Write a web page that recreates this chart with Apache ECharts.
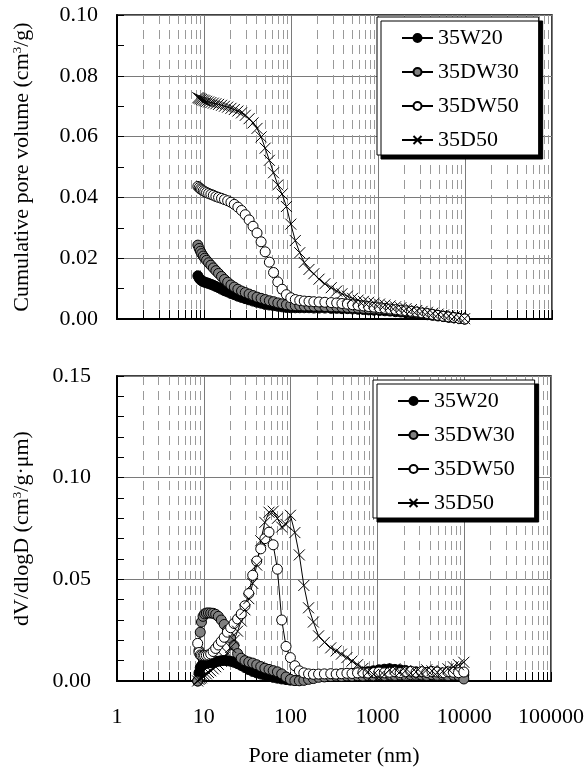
<!DOCTYPE html>
<html>
<head>
<meta charset="utf-8">
<script src="https://cdn.jsdelivr.net/npm/echarts@6/dist/echarts.min.js"></script>
<style>
html,body{margin:0;padding:0;background:#fff;}
#chart{width:587px;height:769px;}
</style>
</head>
<body>
<div id="chart"></div>
<script>
// ---------------- data ----------------
const seriesNames = ['35W20', '35DW30', '35DW50', '35D50'];
const poreDiameter = [
  8.5, 8.8, 9.1, 9.4, 9.8, 10.2, 10.7, 11.3,
  12.0, 12.8, 13.7, 14.7, 15.9, 17.2, 18.7, 20.4,
  22.3, 24.5, 27.0, 29.8, 33.0, 36.6, 40.7, 45.3,
  50.5, 56.4, 63.0, 70.5, 79.0, 88.6, 99.5, 112,
  126, 142, 161, 183, 210, 245, 290, 335,
  385, 445, 510, 590, 680, 780, 900, 1040,
  1200, 1380, 1590, 1830, 2100, 2420, 2790, 3210,
  3700, 4250, 4900, 5650, 6500, 7500, 8600, 9900];

const cumW20 = [
  0.0142, 0.0134, 0.0129, 0.0126, 0.0123, 0.0121, 0.0119, 0.0117,
  0.0114, 0.0111, 0.0107, 0.0103, 0.0098, 0.0093, 0.0089, 0.0084,
  0.0080, 0.0075, 0.0071, 0.0067, 0.0063, 0.0059, 0.0055, 0.0052,
  0.0048, 0.0046, 0.0044, 0.0042, 0.0040, 0.0038, 0.0037, 0.0037,
  0.0037, 0.0037, 0.0037, 0.0036, 0.0036, 0.0036, 0.0035, 0.0035,
  0.0034, 0.0034, 0.0033, 0.0032, 0.0031, 0.0030, 0.0029, 0.0028,
  0.0027, 0.0026, 0.0024, 0.0023, 0.0021, 0.0019, 0.0018, 0.0016,
  0.0014, 0.0012, 0.0010, 0.0008, 0.0006, 0.0004, 0.0002, 0.0000];
const cumDW30 = [
  0.0243, 0.0232, 0.0223, 0.0215, 0.0207, 0.0200, 0.0193, 0.0185,
  0.0177, 0.0168, 0.0159, 0.0150, 0.0140, 0.0130, 0.0121, 0.0112,
  0.0105, 0.0098, 0.0092, 0.0087, 0.0082, 0.0077, 0.0072, 0.0068,
  0.0064, 0.0060, 0.0057, 0.0053, 0.0050, 0.0047, 0.0045, 0.0044,
  0.0044, 0.0043, 0.0043, 0.0042, 0.0042, 0.0041, 0.0040, 0.0040,
  0.0039, 0.0038, 0.0037, 0.0036, 0.0035, 0.0034, 0.0033, 0.0032,
  0.0031, 0.0029, 0.0028, 0.0026, 0.0024, 0.0022, 0.0020, 0.0018,
  0.0016, 0.0014, 0.0011, 0.0009, 0.0006, 0.0004, 0.0002, 0.0000];
const cumDW50 = [
  0.0436, 0.0432, 0.0428, 0.0425, 0.0422, 0.0419, 0.0416, 0.0413,
  0.0410, 0.0407, 0.0403, 0.0400, 0.0397, 0.0393, 0.0389, 0.0384,
  0.0377, 0.0368, 0.0357, 0.0343, 0.0326, 0.0305, 0.0283, 0.0254,
  0.0221, 0.0187, 0.0153, 0.0122, 0.0098, 0.0080, 0.0070, 0.0064,
  0.0061, 0.0059, 0.0058, 0.0057, 0.0056, 0.0055, 0.0054, 0.0053,
  0.0051, 0.0049, 0.0047, 0.0045, 0.0043, 0.0041, 0.0039, 0.0037,
  0.0035, 0.0033, 0.0031, 0.0029, 0.0027, 0.0025, 0.0023, 0.0020,
  0.0018, 0.0015, 0.0012, 0.0009, 0.0007, 0.0005, 0.0002, 0.0000];
const cumD50 = [
  0.0728, 0.0726, 0.0724, 0.0722, 0.0720, 0.0718, 0.0716, 0.0714,
  0.0712, 0.0710, 0.0708, 0.0706, 0.0703, 0.0700, 0.0697, 0.0693,
  0.0689, 0.0684, 0.0678, 0.0670, 0.0659, 0.0645, 0.0627, 0.0599,
  0.0562, 0.0522, 0.0481, 0.0441, 0.0411, 0.0370, 0.0312, 0.0258,
  0.0218, 0.0186, 0.0163, 0.0149, 0.0131, 0.0116, 0.0103, 0.0092,
  0.0083, 0.0075, 0.0068, 0.0062, 0.0058, 0.0055, 0.0052, 0.0049,
  0.0046, 0.0043, 0.0040, 0.0037, 0.0034, 0.0031, 0.0028, 0.0025,
  0.0022, 0.0019, 0.0016, 0.0013, 0.0010, 0.0007, 0.0004, 0.0001];

const difW20 = [
  0.0000, 0.0040, 0.0065, 0.0075, 0.0080, 0.0084, 0.0087, 0.0089,
  0.0090, 0.0092, 0.0094, 0.0097, 0.0100, 0.0101, 0.0100, 0.0097,
  0.0092, 0.0085, 0.0076, 0.0066, 0.0056, 0.0047, 0.0040, 0.0034,
  0.0028, 0.0022, 0.0018, 0.0014, 0.0010, 0.0007, 0.0004, 0.0003,
  0.0005, 0.0009, 0.0014, 0.0019, 0.0023, 0.0027, 0.0030, 0.0032,
  0.0035, 0.0034, 0.0037, 0.0040, 0.0043, 0.0046, 0.0050, 0.0055,
  0.0058, 0.0060, 0.0057, 0.0055, 0.0052, 0.0048, 0.0045, 0.0042,
  0.0040, 0.0038, 0.0036, 0.0035, 0.0034, 0.0033, 0.0033, 0.0030];
const difDW30 = [
  0.0000, 0.0150, 0.0240, 0.0290, 0.0318, 0.0330, 0.0334, 0.0335,
  0.0334, 0.0333, 0.0328, 0.0318, 0.0300, 0.0278, 0.0250, 0.0210,
  0.0175, 0.0135, 0.0112, 0.0100, 0.0093, 0.0088, 0.0080, 0.0071,
  0.0063, 0.0057, 0.0051, 0.0045, 0.0035, 0.0020, 0.0008, 0.0002,
  0.0001, 0.0003, 0.0008, 0.0012, 0.0018, 0.0020, 0.0022, 0.0024,
  0.0022, 0.0025, 0.0023, 0.0026, 0.0024, 0.0027, 0.0025, 0.0028,
  0.0026, 0.0029, 0.0027, 0.0030, 0.0028, 0.0031, 0.0029, 0.0030,
  0.0027, 0.0031, 0.0028, 0.0030, 0.0026, 0.0029, 0.0027, 0.0010];
const difDW50 = [
  0.0185, 0.0140, 0.0128, 0.0125, 0.0124, 0.0125, 0.0126, 0.0128,
  0.0133, 0.0145, 0.0160, 0.0177, 0.0195, 0.0215, 0.0240, 0.0262,
  0.0283, 0.0305, 0.0330, 0.0370, 0.0430, 0.0520, 0.0590, 0.0650,
  0.0700, 0.0732, 0.0670, 0.0550, 0.0300, 0.0170, 0.0115, 0.0075,
  0.0050, 0.0040, 0.0035, 0.0033, 0.0034, 0.0035, 0.0036, 0.0034,
  0.0036, 0.0038, 0.0037, 0.0040, 0.0042, 0.0039, 0.0041, 0.0044,
  0.0040, 0.0043, 0.0046, 0.0041, 0.0045, 0.0048, 0.0043, 0.0046,
  0.0042, 0.0047, 0.0044, 0.0040, 0.0045, 0.0043, 0.0041, 0.0044];
const difD50 = [
  0.0000, 0.0008, 0.0012, 0.0016, 0.0022, 0.0028, 0.0035, 0.0042,
  0.0050, 0.0060, 0.0070, 0.0082, 0.0097, 0.0115, 0.0138, 0.0165,
  0.0200, 0.0245, 0.0295, 0.0350, 0.0405, 0.0480, 0.0570, 0.0690,
  0.0780, 0.0830, 0.0835, 0.0800, 0.0757, 0.0770, 0.0815, 0.0730,
  0.0620, 0.0470, 0.0360, 0.0290, 0.0222, 0.0190, 0.0163, 0.0148,
  0.0132, 0.0115, 0.0098, 0.0080, 0.0062, 0.0045, 0.0032, 0.0022,
  0.0030, 0.0055, 0.0060, 0.0045, 0.0050, 0.0038, 0.0045, 0.0040,
  0.0055, 0.0050, 0.0042, 0.0048, 0.0060, 0.0070, 0.0080, 0.0092];

// axis ticks
const xDecades = [1, 10, 100, 1000, 10000];
const minorMultipliers = [2, 3, 4, 5, 6, 7, 8, 9];
const xTickLabels = ['1', '10', '100', '1000', '10000', '100000'];
const yTopTicks = ['0.00', '0.02', '0.04', '0.06', '0.08', '0.10'];
const yBottomTicks = ['0.00', '0.05', '0.10', '0.15'];

// --------------- chart ----------------
const FONT = "'Liberation Serif', 'Times New Roman', serif";
const FS = 22;

const minorXValues = [];
xDecades.forEach(d => minorMultipliers.forEach(m => minorXValues.push([d * m, 0])));

const styles = {
  '35W20': {symbol: 'circle', fill: '#000000', size: 10},
  '35DW30': {symbol: 'circle', fill: '#808080', size: 10},
  '35DW50': {symbol: 'circle', fill: '#ffffff', size: 10},
  '35D50': {symbol: 'path://M0,0L10,10M10,0L0,10', fill: '#000000', size: 11}
};

function pairs(vals) { return poreDiameter.map((d, i) => [d, vals[i]]); }

function dataSeries(name, vals, idx) {
  const st = styles[name];
  return {
    name: name, type: 'line', xAxisIndex: idx, yAxisIndex: idx,
    data: pairs(vals),
    symbol: st.symbol, symbolSize: st.size, symbolKeepAspect: true,
    showAllSymbol: true, animation: false, z: 5,
    lineStyle: {color: '#000', width: 1},
    itemStyle: {color: st.fill, borderColor: '#000', borderWidth: 1}
  };
}

function minorGridSeries(idx) {
  return {
    type: 'custom', xAxisIndex: idx, yAxisIndex: idx, silent: true, z: 1,
    animation: false, clip: true,
    data: minorXValues,
    renderItem: function (params, api) {
      const cs = params.coordSys;
      const x = Math.round(api.coord([api.value(0), 0])[0]) + 0.5;
      const yb = cs.y + cs.height;
      return {
        type: 'group', children: [
          {type: 'line', shape: {x1: x, y1: cs.y, x2: x, y2: yb},
           style: {stroke: '#9a9a9a', lineWidth: 1, lineDash: [9, 6]}},
          {type: 'line', shape: {x1: x, y1: yb - 9, x2: x, y2: yb},
           style: {stroke: '#000', lineWidth: 1}}
        ]
      };
    }
  };
}

function xAxis(idx, showLabels) {
  return {
    type: 'log', logBase: 10, min: 1, max: 100000, gridIndex: idx,
    axisLine: {show: true, onZero: false, lineStyle: {color: '#000', width: 2}},
    axisTick: {show: true, inside: true, length: 9, lineStyle: {color: '#000'}},
    splitLine: {show: true, lineStyle: {color: '#7a7a7a', width: 1}},
    axisLabel: {show: showLabels, margin: 25, color: '#000', fontFamily: FONT, fontSize: FS,
      formatter: function (v) { return xTickLabels[Math.round(Math.log10(v))]; }},
    name: showLabels ? 'Pore diameter (nm)' : '',
    nameLocation: 'middle', nameGap: 64,
    nameTextStyle: {color: '#000', fontFamily: FONT, fontSize: FS}
  };
}

function yAxis(idx, max, interval, minorSplit, labels, margin, nameRich) {
  return {
    type: 'value', min: 0, max: max, interval: interval, gridIndex: idx,
    axisLine: {show: true, lineStyle: {color: '#000', width: 2}},
    axisTick: {show: true, inside: true, length: 7, lineStyle: {color: '#000'}},
    minorTick: {show: true, splitNumber: minorSplit, length: 7, lineStyle: {color: '#000'}},
    splitLine: {show: true, lineStyle: {color: '#7a7a7a', width: 1}},
    axisLabel: {margin: margin, color: '#000', fontFamily: FONT, fontSize: FS,
      formatter: function (v) { return labels[Math.round(v / interval)]; }},
    name: nameRich,
    nameLocation: 'middle', nameRotate: 90, nameGap: 83,
    nameTextStyle: {color: '#000', fontFamily: FONT, fontSize: FS,
      rich: {sup: {fontFamily: FONT, fontSize: 13, color: '#000', padding: [0, 0, 10, 0]}}}
  };
}

function legend(left, top) {
  return {
    data: seriesNames, orient: 'vertical', left: left, top: top,
    padding: [10, 20, 4, 24], itemWidth: 31, itemHeight: 10, itemGap: 12,
    backgroundColor: '#fff', borderColor: '#000', borderWidth: 1,
    shadowColor: '#000', shadowBlur: 0, shadowOffsetX: 4, shadowOffsetY: 4,
    selectedMode: false,
    textStyle: {color: '#000', fontFamily: FONT, fontSize: FS}
  };
}

const chart = echarts.init(document.getElementById('chart'), null, {renderer: 'canvas'});
chart.setOption({
  backgroundColor: '#fff',
  animation: false,
  grid: [
    {left: 117, top: 15, width: 435, height: 304, show: true, borderColor: '#000', borderWidth: 1.5, backgroundColor: 'transparent'},
    {left: 117, top: 376, width: 435, height: 305, show: true, borderColor: '#000', borderWidth: 1.5, backgroundColor: 'transparent'}
  ],
  legend: [legend(377, 17), legend(373, 380)],
  xAxis: [xAxis(0, false), xAxis(1, true)],
  yAxis: [
    yAxis(0, 0.1, 0.02, 2, yTopTicks, 19, 'Cumulative pore volume (cm{sup|3}/g)'),
    yAxis(1, 0.15, 0.05, 5, yBottomTicks, 26, 'dV/dlogD (cm{sup|3}/g·μm)')
  ],
  series: [
    minorGridSeries(0), minorGridSeries(1),
    dataSeries('35W20', cumW20, 0), dataSeries('35DW30', cumDW30, 0),
    dataSeries('35DW50', cumDW50, 0), dataSeries('35D50', cumD50, 0),
    dataSeries('35W20', difW20, 1), dataSeries('35DW30', difDW30, 1),
    dataSeries('35DW50', difDW50, 1), dataSeries('35D50', difD50, 1)
  ]
});
</script>
</body>
</html>
